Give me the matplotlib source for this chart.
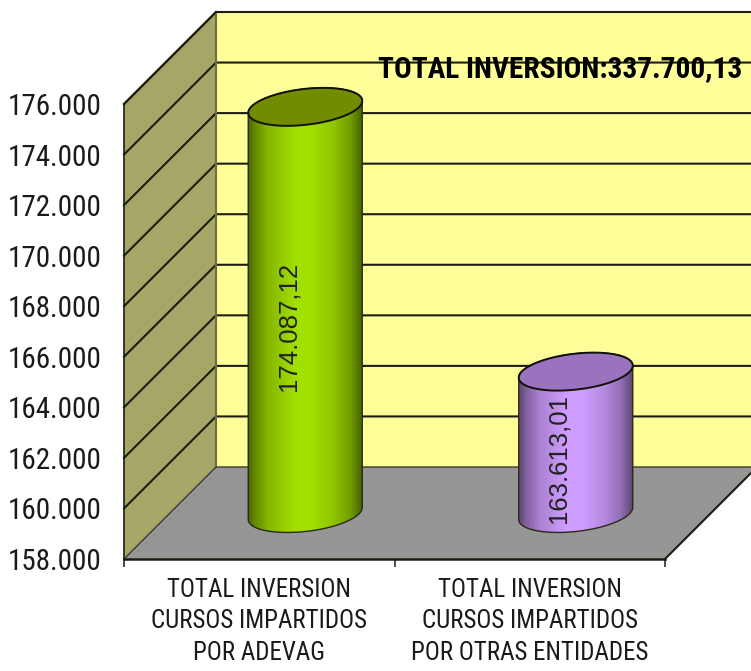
import numpy as np
import matplotlib
matplotlib.use("Agg")
import matplotlib.pyplot as plt
from matplotlib.colors import LinearSegmentedColormap
from matplotlib.patches import Polygon
from matplotlib import font_manager as fm

categories = ["TOTAL INVERSION\nCURSOS IMPARTIDOS\nPOR ADEVAG",
              "TOTAL INVERSION\nCURSOS IMPARTIDOS\nPOR OTRAS ENTIDADES"]
values = [174087.12, 163613.01]
value_labels = ["174.087,12", "163.613,01"]
y_ticks = [158000, 160000, 162000, 164000, 166000, 168000, 170000, 172000, 174000, 176000]
y_tick_labels = ["158.000", "160.000", "162.000", "164.000", "166.000",
                 "168.000", "170.000", "172.000", "174.000", "176.000"]
title_text = "TOTAL INVERSION:337.700,13"

names = {f.name for f in fm.fontManager.ttflist}
narrow = next((n for n in ["Roboto Condensed", "Archivo Narrow", "PT Sans Narrow", "Liberation Sans"] if n in names))

W, H = 751, 671
fig = plt.figure(figsize=(W / 100, H / 100), dpi=100, facecolor="white")
L, R, B, T = 124, 665, 559, 104
ax = fig.add_axes([L / W, 1 - B / H, (R - L) / W, (B - T) / H])
ax.set_xlim(0, 2)
ax.set_ylim(y_ticks[0], y_ticks[-1])
ax.patch.set_visible(False)

px = 2 / (R - L)                         # data x per pixel
py = (y_ticks[-1] - y_ticks[0]) / (B - T)  # data y per pixel
dx, dy = 92 * px, 92 * py                # chart depth
y0, y1 = y_ticks[0], y_ticks[-1]
line = "#1c1c10"
lw = 1.5

# walls and floor
ax.add_patch(Polygon([(0, y0), (dx, y0 + dy), (dx, y1 + dy), (0, y1)], closed=True,
                     fc="#a6a667", ec="none", clip_on=False, zorder=1))
ax.add_patch(Polygon([(dx, y0 + dy), (2 + dx, y0 + dy), (2 + dx, y1 + dy), (dx, y1 + dy)], closed=True,
                     fc="#ffff99", ec="none", clip_on=False, zorder=1))
ax.add_patch(Polygon([(0, y0), (dx, y0 + dy), (2 + dx, y0 + dy), (2, y0)], closed=True,
                     fc="#969696", ec="none", clip_on=False, zorder=1))

# gridlines
for v in y_ticks[1:]:
    ax.plot([0, dx, 2 + dx], [v, v + dy, v + dy], color=line, lw=lw, clip_on=False, zorder=2,
            solid_joinstyle="miter")
ax.plot([dx, dx], [y0 + dy, y1 + dy], color="#6e6e45", lw=lw, clip_on=False, zorder=2)
ax.plot([0, dx, 2 + dx], [y0, y0 + dy, y0 + dy], color="#3a3a30", lw=1.0, clip_on=False, zorder=2)
ax.plot([2, 2 + dx], [y0, y0 + dy], color=line, lw=lw, clip_on=False, zorder=2)
ax.plot([0, dx], [y1, y1 + dy], color=line, lw=lw, clip_on=False, zorder=2)

# cylinders
a, b, s = 57 * px, 18 * py, 6 * py
ox, oy = 46 * px, 45.5 * py
t = np.linspace(0, 2 * np.pi, 181)
shade = [(0.0, .45), (.06, .62), (.18, .82), (.42, 1.0), (.55, 1.0), (.75, .88), (.90, .70), (1.0, .45)]
body_cols = ["#a2e000", "#cf9dff"]
top_cols = ["#728c00", "#9a72c0"]

def ellipse(cx, cy, ts):
    return cx + a * np.cos(ts), cy + b * np.sin(ts) + s * np.cos(ts)

for i, (val, bc, tc, lab) in enumerate(zip(values, body_cols, top_cols, value_labels)):
    cx = i + 0.5 + ox
    ctop, cbot = val + oy, y0 + oy
    xb, yb = ellipse(cx, cbot, np.linspace(2 * np.pi, np.pi, 91))   # lower rim, right to left
    xt, yt = ellipse(cx, ctop, np.linspace(np.pi, 0, 91))
    body = Polygon(np.column_stack([np.r_[xb, xt], np.r_[yb, yt]]), closed=True,
                   fc="none", ec="none", clip_on=False, zorder=3)
    ax.add_patch(body)
    base = np.array(matplotlib.colors.to_rgb(bc))
    cmap = LinearSegmentedColormap.from_list("c", [(p, tuple(base * f)) for p, f in shade])
    im = ax.imshow(np.linspace(0, 1, 256)[None, :], cmap=cmap, aspect="auto", zorder=3,
                   extent=(cx - a, cx + a, y0, y1 + dy), interpolation="bilinear")
    im.set_clip_box(None)
    im.set_clip_path(body)
    outline = Polygon(np.column_stack([np.r_[xb, xt], np.r_[yb, yt]]), closed=True,
                      fc="none", ec="#2a2a1a", lw=1.0, clip_on=False, zorder=4)
    ax.add_patch(outline)
    ex, ey = ellipse(cx, ctop, t)
    ax.fill(ex, ey, fc=tc, ec="#111108", lw=1.4, clip_on=False, zorder=5)
    ax.annotate(lab, xy=(cx, (ctop + cbot) / 2), xytext=(-17, -16), textcoords="offset pixels",
                rotation=90, ha="center", va="center", fontsize=18.5, family="Liberation Sans",
                color="#222222", zorder=6, annotation_clip=False)

ax.set_xlim(0, 2)
ax.set_ylim(y0, y1)

# axes
for sp in ("top", "right"):
    ax.spines[sp].set_visible(False)
ax.spines["left"].set_color(line)
ax.spines["bottom"].set_color(line)
ax.spines["left"].set_linewidth(1.2)
ax.spines["bottom"].set_linewidth(1.8)
for sp in ax.spines.values():
    sp.set_zorder(2.5)
ax.set_yticks(y_ticks, y_tick_labels, family=narrow, fontsize=21, color="#1a1a1a")
ax.tick_params(axis="y", length=0, pad=16)
ax.set_xticks([0, 1, 2], ["", "", ""])
ax.tick_params(axis="x", which="major", length=6, width=1.1, color=line)
ax.set_xticks([0.5, 1.5], categories, minor=True, family=narrow, fontsize=18, color="#1a1a1a",
              linespacing=1.37)
ax.tick_params(axis="x", which="minor", length=0, pad=14)

# total label sits on the back wall
ax.text(2 + dx - 15 * px, y1 + 35 * py, title_text, ha="right", va="center", family=narrow,
        fontweight="bold", fontsize=21.2, color="black", clip_on=False, zorder=6)

fig.savefig("out.png", dpi=100)
